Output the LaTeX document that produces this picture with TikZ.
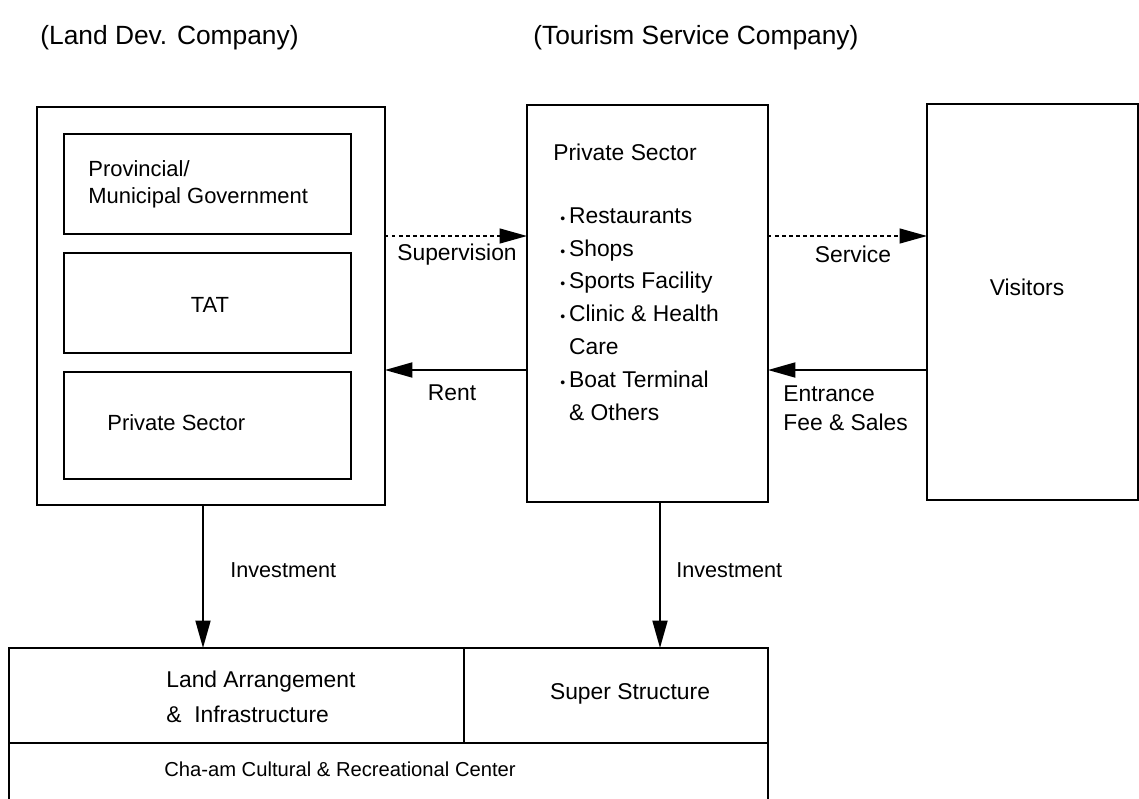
\documentclass[tikz,border=0pt]{standalone}
\usepackage{fontspec}
\setmainfont{Liberation Sans}
\usepackage{tikz}
\usetikzlibrary{arrows.meta, positioning}

\newcommand{\bul}{{\footnotesize\textbullet}\,}

\tikzset{
  groupbox/.style={
    draw, line width=1.1pt, anchor=north west,
    inner sep=0pt, outer sep=0pt
  },
  memberbox/.style={groupbox, line width=1pt},
  flowtext/.style={
    anchor=west, inner sep=0pt, align=left,
    font=\fontsize{13}{18.7}\selectfont
  },
  membertext/.style={flowtext, font=\fontsize{12.5}{15.3}\selectfont},
  headtext/.style={flowtext, font=\fontsize{15}{18}\selectfont},
  flowarrow/.style={
    -{Triangle[length=5.5mm, width=3mm]}, line width=1.1pt
  },
  serviceflow/.style={
    flowarrow, line width=0.8pt, dash pattern=on 2pt off 2pt
  },
}

\begin{document}
\begin{tikzpicture}[x=0.02cm, y=-0.02cm]
  \clip (0,0) rectangle (1139,798);

  % Company headings
  \node[headtext] (landhead) at (40,38) {(Land Dev. Company)};
  \node[headtext] (tourhead) at (533,38) {(Tourism Service Company)};

  % Land development group
  \node[groupbox, minimum width=6.96cm, minimum height=7.96cm] (landdev) at (37,107) {};
  \node[memberbox, minimum width=5.74cm, minimum height=2cm] (provgov) at (64,134) {};
  \node[memberbox, minimum width=5.74cm, minimum height=2cm] (tat) at (64,253) {};
  \node[memberbox, minimum width=5.74cm, minimum height=2.14cm] (landpriv) at (64,372) {};
  \node[membertext] (provgovtext) at (88,184) {Provincial/\\Municipal Government};
  \node[membertext, anchor=center] (tattext) at (210,305) {TAT};
  \node[membertext] (landprivtext) at (107,423) {Private Sector};

  % Tourism service group
  \node[groupbox, minimum width=4.82cm, minimum height=7.94cm] (tourism) at (527,105) {};
  \node[flowtext] (tourtitle) at (553,152) {Private Sector};
  \node[flowtext] (tourlist) at (560,314)
    {\bul Restaurants\\\bul Shops\\\bul Sports Facility\\\bul Clinic \& Health\\
     \phantom{\bul}Care\\\bul Boat Terminal\\\phantom{\bul}\& Others};

  % Visitors
  \node[groupbox, minimum width=4.22cm, minimum height=7.92cm] (visitors) at (927,104) {};
  \node[flowtext, anchor=center] (visitorstext) at (1027,287) {Visitors};

  % Flows between the groups
  \coordinate (supv) at (0,236);
  \coordinate (rent) at (0,370);
  \draw[serviceflow] (landdev.east |- supv) -- (tourism.west |- supv);
  \draw[serviceflow] (tourism.east |- supv) -- (visitors.west |- supv);
  \draw[flowarrow] (tourism.west |- rent) -- (landdev.east |- rent);
  \draw[flowarrow] (visitors.west |- rent) -- (tourism.east |- rent);
  \node[flowtext, anchor=center] (supvtext) at (457,255) {Supervision};
  \node[flowtext, anchor=center] (servtext) at (853,254) {Service};
  \node[flowtext, anchor=center] (renttext) at (452,393) {Rent};
  \node[flowtext, font=\fontsize{13}{16.4}\selectfont] (feetext) at (783,408)
    {Entrance\\Fee \& Sales};

  % Cultural & recreational center
  \node[groupbox, minimum width=9.1cm, minimum height=1.9cm] (landarr) at (9,648) {};
  \node[groupbox, minimum width=6.08cm, minimum height=1.9cm] (superstr) at (464,648) {};
  \node[groupbox, minimum width=15.18cm, minimum height=1.8cm] (center) at (9,743) {};
  \node[flowtext, font=\fontsize{13}{20}\selectfont] (landarrtext) at (166,697)
    {Land Arrangement\\\&\ \ Infrastructure};
  \node[flowtext, anchor=center] (superstrtext) at (630,694) {Super Structure};
  \node[flowtext, anchor=center, font=\fontsize{11.5}{14}\selectfont] (centertext) at (340,769)
    {Cha-am Cultural \& Recreational Center};

  % Investment
  \coordinate (invl) at (203,0);
  \coordinate (invr) at (660,0);
  \draw[flowarrow] (landdev.south -| invl) -- (landarr.north -| invl);
  \draw[flowarrow] (tourism.south -| invr) -- (superstr.north -| invr);
  \node[flowtext, font=\fontsize{12.3}{15}\selectfont] (invltext) at (230,570) {Investment};
  \node[flowtext, font=\fontsize{12.3}{15}\selectfont] (invrtext) at (676,570) {Investment};
\end{tikzpicture}
\end{document}
